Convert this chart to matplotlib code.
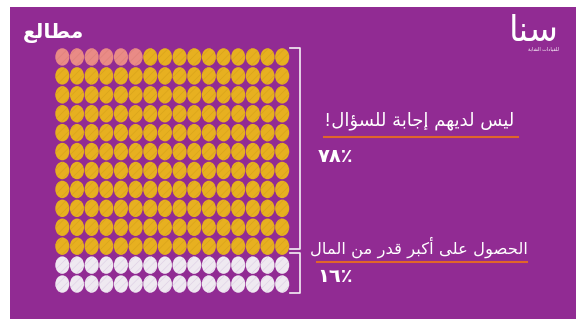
import matplotlib
matplotlib.use('Agg')
import matplotlib.pyplot as plt
from matplotlib.patches import Ellipse

# pictogram: coins in reading order (row by row, left to right)
groups = ['other', 'no_answer', 'money']
counts = [6, 170, 32]
n_cols = 16

labels = ['ليس لديهم إجابة للسؤال!', 'الحصول على أكبر قدر من المال']
values = ['٧٨٪', '١٦٪']
logo_left = 'مطالع'
logo_right = 'سنا'
logo_right_sub = 'للقيادات الشابة'

BG = '#912b93'
coin_colors = {'other': '#e98b86', 'no_answer': '#e7b020', 'money': '#efe9f1'}
stripe_colors = {'other': '#df827c', 'no_answer': '#d9a41b', 'money': '#e0d2e6'}
ORANGE = '#e0662a'

# arabic presentation forms: isolated, final, (initial, medial)
FORMS = {
    'ا': (0xFE8D, 0xFE8E), 'أ': (0xFE83, 0xFE84), 'إ': (0xFE87, 0xFE88),
    'ؤ': (0xFE85, 0xFE86), 'ة': (0xFE93, 0xFE94), 'د': (0xFEA9, 0xFEAA),
    'ر': (0xFEAD, 0xFEAE), 'و': (0xFEED, 0xFEEE), 'ى': (0xFEEF, 0xFEF0),
    'ب': (0xFE8F, 0xFE90, 0xFE91, 0xFE92), 'ت': (0xFE95, 0xFE96, 0xFE97, 0xFE98),
    'ج': (0xFE9D, 0xFE9E, 0xFE9F, 0xFEA0), 'ح': (0xFEA1, 0xFEA2, 0xFEA3, 0xFEA4),
    'س': (0xFEB1, 0xFEB2, 0xFEB3, 0xFEB4), 'ش': (0xFEB5, 0xFEB6, 0xFEB7, 0xFEB8),
    'ص': (0xFEB9, 0xFEBA, 0xFEBB, 0xFEBC), 'ط': (0xFEC1, 0xFEC2, 0xFEC3, 0xFEC4),
    'ع': (0xFEC9, 0xFECA, 0xFECB, 0xFECC), 'ق': (0xFED5, 0xFED6, 0xFED7, 0xFED8),
    'ك': (0xFED9, 0xFEDA, 0xFEDB, 0xFEDC), 'ل': (0xFEDD, 0xFEDE, 0xFEDF, 0xFEE0),
    'م': (0xFEE1, 0xFEE2, 0xFEE3, 0xFEE4), 'ن': (0xFEE5, 0xFEE6, 0xFEE7, 0xFEE8),
    'ه': (0xFEE9, 0xFEEA, 0xFEEB, 0xFEEC), 'ي': (0xFEF1, 0xFEF2, 0xFEF3, 0xFEF4),
}


def shape(text):
    # join letters and flip to visual order, matplotlib has no bidi
    out = []
    for i, ch in enumerate(text):
        f = FORMS.get(ch)
        if f is None:
            out.append(ch)
            continue
        prev = text[i - 1] if i > 0 else ''
        nxt = text[i + 1] if i + 1 < len(text) else ''
        j_prev = prev in FORMS and len(FORMS[prev]) == 4
        j_next = len(f) == 4 and nxt in FORMS
        if j_prev and j_next:
            c = f[3]
        elif j_prev:
            c = f[1]
        elif j_next:
            c = f[2]
        else:
            c = f[0]
        out.append(chr(c))
    return ''.join(out)[::-1]


W, H = 576, 319
plt.rcParams['font.family'] = ['DejaVu Sans']
plt.rcParams['hatch.linewidth'] = 0.5
fig = plt.figure(figsize=(W / 100, H / 100), dpi=100, facecolor='white')


def px_axes(x0, y0, x1, y1):
    return fig.add_axes([x0 / W, 1 - y1 / H, (x1 - x0) / W, (y1 - y0) / H])


bg = px_axes(10, 7, W, H)
bg.set_facecolor(BG)
bg.set_xticks([])
bg.set_yticks([])
for s in bg.spines.values():
    s.set_visible(False)

# overlay in pixel coords for brackets and text
ax = px_axes(0, 0, W, H)
ax.set_xlim(0, W)
ax.set_ylim(H, 0)
ax.axis('off')

# coin grid
n_rows = sum(counts) // n_cols
gx = px_axes(55, 47.5, 289.5, 293.5)
gx.set_xlim(-0.5, n_cols - 0.5)
gx.set_ylim(n_rows - 0.5, -0.5)
gx.axis('off')
k = 0
for g, c in zip(groups, counts):
    for _ in range(c):
        r, col = divmod(k, n_cols)
        gx.add_patch(Ellipse((col, r), 0.96, 0.92, facecolor=coin_colors[g],
                             edgecolor=stripe_colors[g], lw=0, hatch='////'))
        k += 1

# brackets
lc = '#f4eef5'
ax.plot([290, 300, 300, 290], [48, 48, 249, 249], color=lc, lw=1.2)
ax.plot([290, 300, 300, 290], [253, 253, 293, 293], color=lc, lw=1.2)

# labels
ax.text(514, 121, shape(labels[0]), color='white', fontsize=13,
        ha='right', va='center')
ax.plot([324, 518], [137, 137], color=ORANGE, lw=1.5)
ax.text(318, 157, values[0], color='white', fontsize=14, fontweight='bold',
        ha='left', va='center')

ax.text(528, 247, shape(labels[1]), color='white', fontsize=11.8,
        ha='right', va='center')
ax.plot([317, 527], [262, 262], color=ORANGE, lw=1.5)
ax.text(317, 277, values[1], color='white', fontsize=14, fontweight='bold',
        ha='left', va='center')

# logos
ax.text(54, 33, shape(logo_left), color='white', fontsize=14.5, fontweight='bold',
        ha='center', va='center')
ax.text(534, 31, shape(logo_right), color='white', fontsize=25,
        ha='center', va='center')
ax.text(543, 49, shape(logo_right_sub), color='white', fontsize=3.5,
        ha='center', va='center')

fig.savefig('out.png', dpi=100, facecolor='white')
